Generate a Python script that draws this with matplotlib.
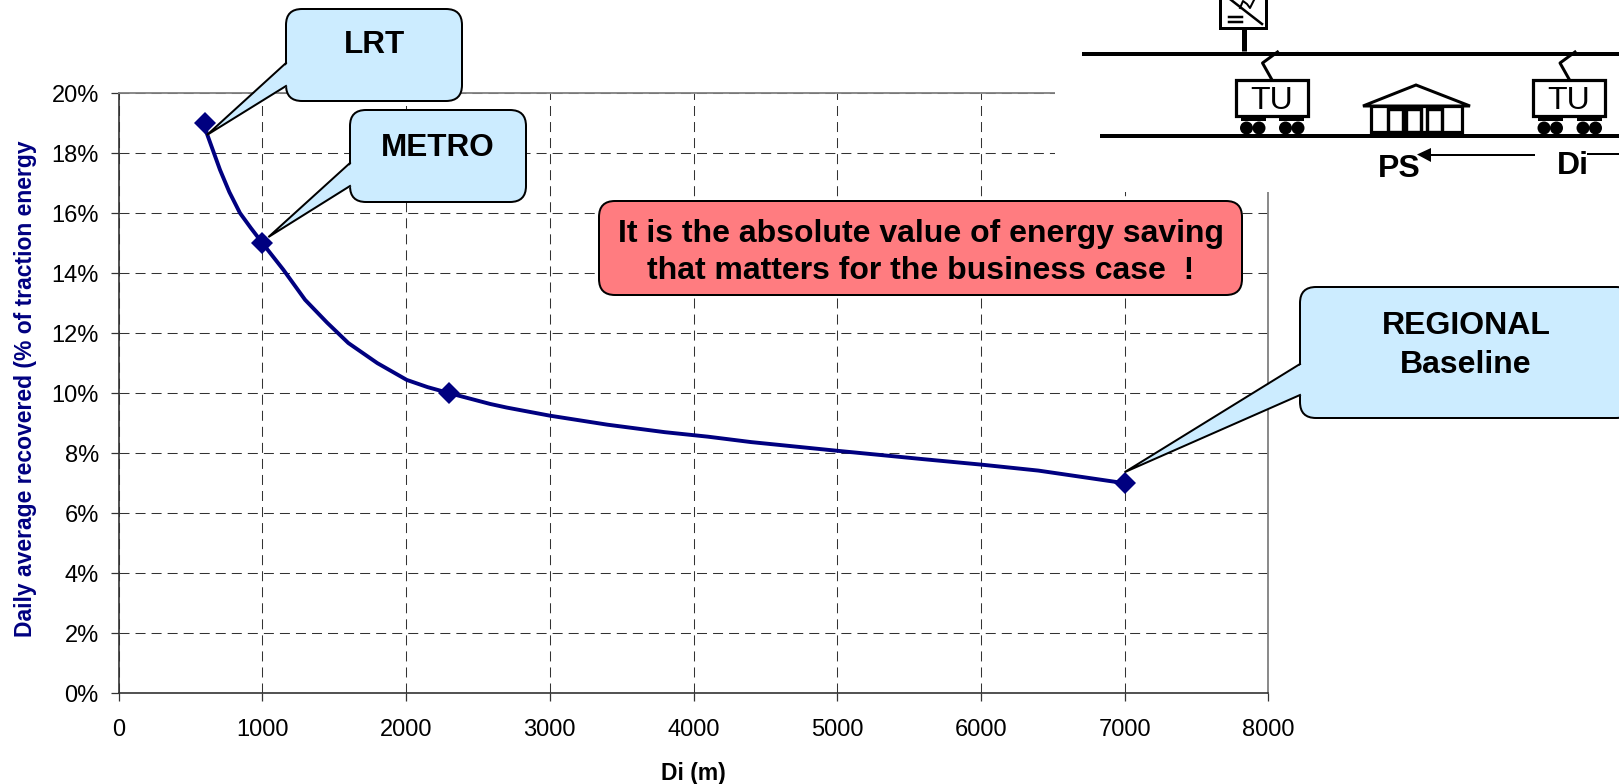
import matplotlib
matplotlib.use("Agg")
import matplotlib.pyplot as plt
from matplotlib.patches import FancyBboxPatch, Polygon, Rectangle, Circle
from matplotlib.ticker import FuncFormatter

plt.rcParams['font.family'] = ['Liberation Sans', 'DejaVu Sans']

# stations spacing vs recovered energy
marker_di = [600, 1000, 2300, 7000]
marker_pct = [19, 15, 10, 7]
curve_di = [600, 612, 705, 770, 844, 920, 1000, 1146, 1297, 1450, 1598, 1800, 2005, 2150, 2300,
            2585, 2700, 3000, 3400, 3800, 4100, 4400, 5000, 5600, 6000, 6400, 7000]
curve_pct = [19, 18.67, 17.44, 16.7, 16.0, 15.5, 15, 14.11, 13.11, 12.35, 11.67, 11.0, 10.44, 10.2, 10,
             9.64, 9.52, 9.25, 8.95, 8.7, 8.55, 8.37, 8.08, 7.8, 7.62, 7.42, 7]
x_ticks = [0, 1000, 2000, 3000, 4000, 5000, 6000, 7000, 8000]
y_ticks = [0, 2, 4, 6, 8, 10, 12, 14, 16, 18, 20]

NAVY = '#000080'
W, H = 1619, 784

fig = plt.figure(figsize=(W / 100, H / 100), dpi=100)
ax = fig.add_axes([118.7 / W, 1 - 693.3 / H, (1268.3 - 118.7) / W, (693.3 - 93) / H])
ax.plot(curve_di, curve_pct, color=NAVY, lw=2.8, zorder=3)
ax.plot(marker_di, marker_pct, ls='none', marker='D', ms=11, mew=0, color=NAVY, zorder=4)
ax.set_xlim(0, 8000)
ax.set_ylim(0, 20)
ax.set_xticks(x_ticks)
ax.set_yticks(y_ticks)
ax.yaxis.set_major_formatter(FuncFormatter(lambda v, _: f'{v:.0f}%'))
ax.tick_params(axis='y', labelsize=17, length=5.8, width=0.9, pad=8.5, color='#333333')
ax.tick_params(axis='x', labelsize=17, length=5.8, width=0.9, pad=12.5, color='#333333')
ax.grid(True, color='#333333', lw=0.75, ls=(0, (9.6, 5.8)))
ax.set_axisbelow(True)
for s in ['top', 'right']:
    ax.spines[s].set_color('#808080')
    ax.spines[s].set_linewidth(1.3)
for s in ['left', 'bottom']:
    ax.spines[s].set_color('#333333')
    ax.spines[s].set_linewidth(1.2)
ax.set_xlabel('Di (m)', fontsize=16.5, fontweight='bold')
ax.xaxis.set_label_coords(0.5, -0.115)
ax.set_ylabel('Daily average recovered (% of traction energy', fontsize=16.5, fontweight='bold',
              color=NAVY)
ax.yaxis.set_label_coords(-0.071, 0.508)

# overlay in pixel coordinates for the callouts and the line diagram
ov = fig.add_axes([0, 0, 1, 1], zorder=5)
ov.set_xlim(0, W)
ov.set_ylim(H, 0)
ov.axis('off')
ov.patch.set_alpha(0)

fig.canvas.draw()


def px(di, pct):
    p = ax.transData.transform((di, pct))
    return p[0], H - p[1]


def lw(pixels):
    return pixels * 0.72


ov.add_patch(Rectangle((1055, 0), W - 1055, 192, fc='white', ec='none', zorder=1))


def callout(x0, y0, x1, y1, tip, att0, att1, label, fc='#CCECFF', size=23, ty=None, spacing=1.3):
    box = FancyBboxPatch((x0 + 16, y0 + 16), x1 - x0 - 32, y1 - y0 - 32,
                         boxstyle='round,pad=16,rounding_size=16', fc=fc, ec='black',
                         lw=lw(2), zorder=2)
    ov.add_patch(box)
    if tip is not None:
        ov.add_patch(Polygon([(x0 + 2, att0), tip, (x0 + 2, att1)], fc=fc, ec='none', zorder=3))
        ov.plot([x0, tip[0], x0], [att0, tip[1], att1], color='black', lw=lw(2), zorder=3,
                solid_joinstyle='miter')
    ov.text((x0 + x1) / 2, ty, label, ha='center', va='center', fontsize=size, fontweight='bold',
            zorder=4, linespacing=spacing)


mx, my = px(600, 19)
callout(286, 9, 462, 101, (mx + 2, my + 12), 63, 86, 'LRT', size=22.7, ty=45)
mx, my = px(1000, 15)
callout(350, 110, 526, 202, (mx + 6, my - 6), 163, 186, 'METRO', size=22.7, ty=148)
mx, my = px(7000, 7)
callout(1300, 287, 1632, 418, (mx, my - 11), 364, 395, 'REGIONAL\nBaseline', ty=345.5, spacing=1.42)
callout(599, 201, 1242, 295, None, 0, 0,
        'It is the absolute value of energy saving\nthat matters for the business case  !',
        fc='#FF7C80', ty=252.5, spacing=1.34)

# overhead wire and rail
ov.plot([1082, W], [53.5, 53.5], color='black', lw=lw(4), solid_capstyle='butt')
ov.plot([1100, W], [135.5, 135.5], color='black', lw=lw(4), solid_capstyle='butt')

# substation
ov.plot([1243.6, 1243.6], [28, 51], color='black', lw=lw(5), solid_capstyle='butt')
ov.add_patch(Rectangle((1220, -6), 46, 33.5, fc='white', ec='black', lw=lw(3)))
ov.plot([1226, 1262], [-4, 24], color='black', lw=lw(2.5))
ov.plot([1229, 1242], [17, 17], color='black', lw=lw(2.5))
ov.plot([1229, 1242], [22, 22], color='black', lw=lw(2.5))
ov.plot([1240, 1243, 1247, 1250, 1254], [8, 1, 4, 8, 0], color='black', lw=lw(2))


def train(x):
    ov.add_patch(Rectangle((x, 79.5), 72, 36, fc='white', ec='black', lw=lw(3.2), zorder=2))
    ov.text(x + 36, 100.5, 'TU', ha='center', va='center', fontsize=23, zorder=3)
    for bx in [x + 5, x + 43.5]:
        ov.add_patch(Rectangle((bx, 115), 25, 6, fc='black', ec='none', zorder=2))
    for wx in [x + 11, x + 23.5, x + 50, x + 62.5]:
        ov.add_patch(Circle((wx, 128), 6.5, fc='black', ec='none', zorder=2))
    ov.plot([x + 36, x + 27, x + 42], [79, 63, 52], color='black', lw=lw(3), zorder=2)


train(1235.5)
train(1533)

# passenger station
ov.add_patch(Rectangle((1371, 106), 91, 26, fc='white', ec='black', lw=lw(3.2), zorder=2))
ov.add_patch(Polygon([(1363, 106), (1416, 85), (1470, 106)], fc='white', ec='black', lw=lw(3),
                     zorder=2, joinstyle='miter'))
for dx in [1388, 1406, 1427]:
    ov.add_patch(Rectangle((dx, 109), 14.5, 23, fc='white', ec='black', lw=lw(3.4), zorder=3))

ov.text(1399, 169, 'PS', ha='center', va='center', fontsize=23, fontweight='bold', zorder=3)
ov.text(1573, 166, 'Di', ha='center', va='center', fontsize=23, fontweight='bold', zorder=3)
ov.plot([1420, 1535], [154.5, 154.5], color='black', lw=lw(2), solid_capstyle='butt', zorder=2)
ov.add_patch(Polygon([(1417, 154.5), (1431, 148), (1431, 162)], fc='black', ec='none', zorder=4))
ov.plot([1587, W], [153.5, 153.5], color='black', lw=lw(2), solid_capstyle='butt', zorder=2)

fig.savefig('out.png', dpi=100)
